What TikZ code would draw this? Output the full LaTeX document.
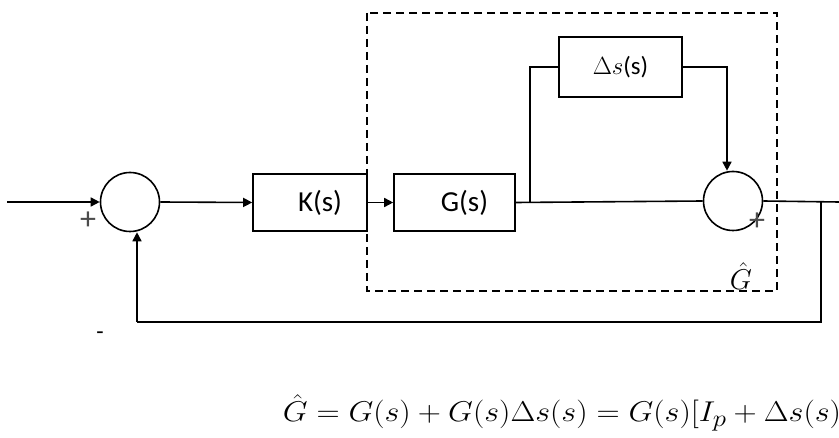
\documentclass[tikz,border=0pt]{standalone}
\usepackage{fontspec}
\setmainfont{Carlito}
\usetikzlibrary{arrows.meta}
\begin{document}
\begin{tikzpicture}[x=1pt,y=-1pt,
  line width=1.6pt,
  blk/.style={draw,rectangle,minimum height=57pt,inner sep=0pt,font=\fontsize{29}{31}\selectfont},
  sumc/.style={draw,circle,minimum size=59pt,inner sep=0pt},
  arr/.style={-{Triangle[length=9pt,width=9pt]}},
  sgn/.style={font=\fontsize{32}{34}\selectfont,inner sep=0pt,text=black!70}]
\useasboundingbox (0,0) rectangle (839,438);
% blocks
\node[sumc] (s1) at (130,202) {};
\node[sumc] (s2) at (733,201) {};
\node[blk,minimum width=114pt] (K) at (310,202.5) {\hspace*{20pt}K(s)};
\node[blk,minimum width=121pt] (G) at (454.5,202.5) {\hspace*{20pt}G(s)};
\node[blk,minimum width=123pt,minimum height=60pt,font=\fontsize{24.88}{26}\selectfont] (D) at (620.5,67) {$\Delta s$(s)};
% dashed box
\draw[dash pattern=on 8pt off 5pt] (367,13) rectangle (777,291);
\node[font=\fontsize{24.88}{27}\selectfont,inner sep=0pt] (gh) at (741,276) {\scalebox{1.15}{$\hat{G}$}};
% coordinates
\coordinate (in) at (7,202);
\coordinate (br) at (530,202);
\coordinate (dr) at (727,68);
\coordinate (out) at (839,202);
\coordinate (fb) at (821,202);
\coordinate (fbb) at (821,322);
\coordinate (fbl) at (137,322);
% connectors
\draw[arr] (in) -- (s1.west);
\draw[arr] (s1.east) -- (K.west);
\draw[arr] (K.east) -- (G.west);
\draw (G.east) -- (s2.west);
\draw (br) |- (D.west);
\draw[arr] (D.east) -| (dr) -- (s2.north -| dr);
\draw (s2.east) -- (out);
\draw (fb) -- (fbb) -- (fbl);
\draw[arr] (fbl) -- (fbl |- s1.south);
% signs
\node[sgn] (p1) at (88,221) {+};
\node[sgn] (p2) at (757,222) {+};
\node[sgn,font=\fontsize{24}{26}\selectfont,text=black] (m1) at (100,336) {-};
% equation
\node[anchor=base west,inner sep=0pt,font=\fontsize{24.88}{27}\selectfont] (eq) at (282,422)
  {\scalebox{1.29}[1.15]{$\hat{G}=G(s)+G(s)\Delta s(s)=G(s)[I_p+\Delta s(s)$}};
\end{tikzpicture}
\end{document}
